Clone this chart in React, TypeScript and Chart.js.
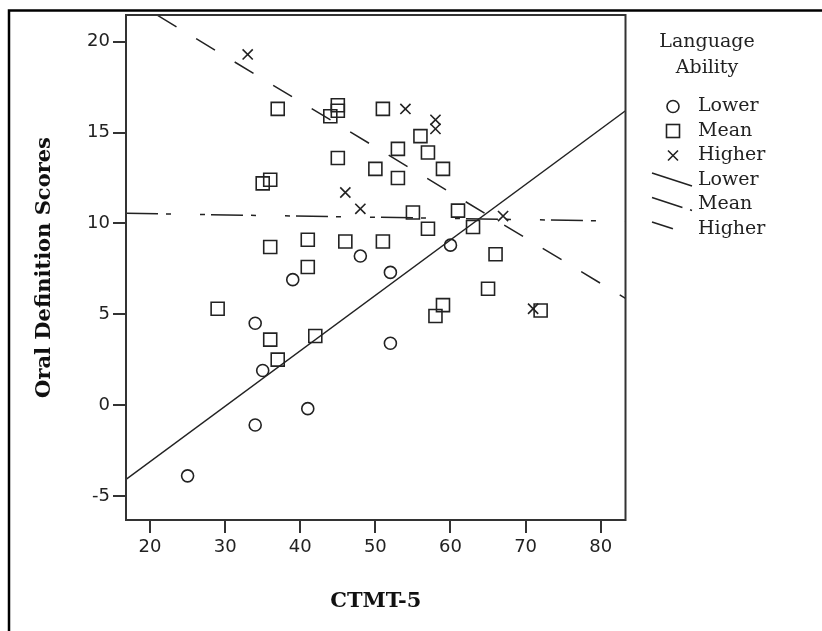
import React, { useEffect, useRef } from 'react';
import { Chart, registerables } from 'chart.js';

Chart.register(...registerables);

// ---- axis values ----
const xTicks = [20, 30, 40, 50, 60, 70, 80];
const yTicks = [-5, 0, 5, 10, 15, 20];
const xRange = [16.8, 83.3];
const yRange = [-6.33, 21.47];

// ---- Language Ability: Lower (circles) ----
const lowerX = [25, 34, 41, 35, 34, 52, 39, 52, 48, 60];
const lowerY = [-3.9, -1.1, -0.2, 1.9, 4.5, 3.4, 6.9, 7.3, 8.2, 8.8];

// ---- Language Ability: Mean (squares) ----
const meanX = [29, 36, 37, 42, 36, 41, 41, 46, 51, 35, 36, 37, 44, 45, 45, 45, 50, 51, 53, 53, 56, 57, 59, 55, 57, 61, 63, 66, 65, 59, 58, 72];
const meanY = [5.3, 3.6, 2.5, 3.8, 8.7, 9.1, 7.6, 9.0, 9.0, 12.2, 12.4, 16.3, 15.9, 16.2, 16.5, 13.6, 13.0, 16.3, 14.1, 12.5, 14.8, 13.9, 13.0, 10.6, 9.7, 10.7, 9.8, 8.3, 6.4, 5.5, 4.9, 5.2];

// ---- Language Ability: Higher (crosses) ----
const higherX = [33, 54, 58, 58, 46, 48, 67, 71];
const higherY = [19.3, 16.3, 15.7, 15.2, 11.7, 10.8, 10.4, 5.3];

// ---- fit lines (end values) ----
const fitX = [16.8, 83.3];
const lowerFitY = [-4.1, 16.2];
const meanFitY = [10.55, 10.12];
const higherFitY = [22.5, 5.87];

// ---- text ----
const xTitle = 'CTMT-5';
const yTitle = 'Oral Definition Scores';
const legendTitle = ['Language', 'Ability'];
const legendLabels = ['Lower', 'Mean', 'Higher', 'Lower', 'Mean', 'Higher'];

const INK = '#222';
const SOLID: number[] = [];
const DASH_DOT = [32, 8, 5, 29, 5, 6];
const DASHED = [22, 23];

const pts = (xs: number[], ys: number[]) => xs.map((x, i) => ({ x, y: ys[i] }));

const decorPlugin = {
  id: 'decor',
  afterDraw(chart: any) {
    const { ctx, chartArea: a } = chart;
    ctx.save();
    // plot frame
    ctx.strokeStyle = '#333';
    ctx.lineWidth = 2;
    ctx.strokeRect(a.left, a.top, a.right - a.left, a.bottom - a.top);
    // outer (cropped) border
    ctx.strokeStyle = '#000';
    ctx.lineWidth = 2.5;
    ctx.beginPath();
    ctx.moveTo(9, 631);
    ctx.lineTo(9, 10.5);
    ctx.lineTo(822, 10.5);
    ctx.stroke();

    // legend
    ctx.fillStyle = INK;
    ctx.font = '19px "DejaVu Serif"';
    ctx.textAlign = 'center';
    ctx.textBaseline = 'middle';
    ctx.fillText(legendTitle[0], 707, 42);
    ctx.fillText(legendTitle[1], 707, 68);
    const ys = [106.5, 131, 155.5, 180, 204.5, 229];
    ctx.textAlign = 'left';
    ys.forEach((y, i) => ctx.fillText(legendLabels[i], 698, y));
    const mx = 673;
    ctx.strokeStyle = INK;
    ctx.lineWidth = 1.6;
    // circle
    ctx.beginPath();
    ctx.arc(mx, ys[0], 6, 0, Math.PI * 2);
    ctx.stroke();
    // square
    ctx.strokeRect(mx - 6.5, ys[1] - 6.5, 13, 13);
    // cross
    ctx.beginPath();
    ctx.moveTo(mx - 5, ys[2] - 5);
    ctx.lineTo(mx + 5, ys[2] + 5);
    ctx.moveTo(mx + 5, ys[2] - 5);
    ctx.lineTo(mx - 5, ys[2] + 5);
    ctx.stroke();
    // line samples
    const dashes = [SOLID, DASH_DOT, DASHED];
    [3, 4, 5].forEach((k, j) => {
      ctx.setLineDash(dashes[j]);
      ctx.beginPath();
      ctx.moveTo(652, ys[k] - 7);
      ctx.lineTo(692, ys[k] + 6);
      ctx.stroke();
    });
    ctx.setLineDash([]);
    ctx.restore();
  },
};

export default function App() {
  const ref = useRef<HTMLCanvasElement | null>(null);
  useEffect(() => {
    if (!ref.current) return;
    const pointCommon = {
      showLine: false,
      backgroundColor: 'rgba(0,0,0,0)',
      borderColor: INK,
      pointBorderWidth: 1.6,
      pointBorderColor: INK,
      pointBackgroundColor: 'rgba(0,0,0,0)',
    };
    const lineCommon = {
      showLine: true,
      pointRadius: 0,
      borderColor: INK,
      borderWidth: 1.5,
      fill: false,
    };
    const chart = new Chart(ref.current, {
      type: 'scatter',
      data: {
        datasets: [
          { ...lineCommon, label: 'Lower fit', data: pts(fitX, lowerFitY), borderDash: SOLID },
          { ...lineCommon, label: 'Mean fit', data: pts(fitX, meanFitY), borderDash: DASH_DOT },
          { ...lineCommon, label: 'Higher fit', data: pts(fitX, higherFitY), borderDash: DASHED, borderDashOffset: 8 },
          { ...pointCommon, label: 'Lower', data: pts(lowerX, lowerY), pointStyle: 'circle', pointRadius: 6 },
          { ...pointCommon, label: 'Mean', data: pts(meanX, meanY), pointStyle: 'rect', pointRadius: 9.2 },
          { ...pointCommon, label: 'Higher', data: pts(higherX, higherY), pointStyle: 'crossRot', pointRadius: 7.2 },
        ],
      } as any,
      options: {
        responsive: false,
        animation: false,
        devicePixelRatio: 1,
        events: [],
        layout: { padding: { left: 0, top: 15, right: 822 - 625.5, bottom: 0 } },
        plugins: { legend: { display: false }, tooltip: { enabled: false } },
        scales: {
          x: {
            type: 'linear',
            min: xRange[0],
            max: xRange[1],
            afterBuildTicks: (s: any) => { s.ticks = xTicks.map((v) => ({ value: v })); },
            afterFit: (s: any) => { s.height = 111; },
            border: { display: false },
            grid: { drawOnChartArea: false, drawTicks: true, tickLength: 13, lineWidth: 2, color: '#333' },
            ticks: { autoSkip: false, maxRotation: 0, padding: 4, color: INK, font: { family: 'DejaVu Sans', size: 18 } },
            title: { display: true, text: xTitle, color: '#111', font: { family: 'DejaVu Serif', size: 21, weight: 'bold' }, padding: { top: 0, bottom: 17 } },
          },
          y: {
            type: 'linear',
            min: yRange[0],
            max: yRange[1],
            afterBuildTicks: (s: any) => { s.ticks = yTicks.map((v) => ({ value: v })); },
            afterFit: (s: any) => { s.width = 126; },
            border: { display: false },
            grid: { drawOnChartArea: false, drawTicks: true, tickLength: 13, lineWidth: 2, color: '#333' },
            ticks: { autoSkip: false, padding: 3, color: INK, font: { family: 'DejaVu Sans', size: 18 } },
            title: { display: true, text: yTitle, color: '#111', font: { family: 'DejaVu Serif', size: 21, weight: 'bold' }, padding: { top: 32.4, bottom: 0 } },
          },
        },
      } as any,
      plugins: [decorPlugin],
    });
    return () => chart.destroy();
  }, []);
  return (
    <div style={{ position: 'absolute', left: 0, top: 0, width: 822, height: 631, background: '#fff' }}>
      <canvas ref={ref} width={822} height={631} style={{ display: 'block' }} />
    </div>
  );
}
